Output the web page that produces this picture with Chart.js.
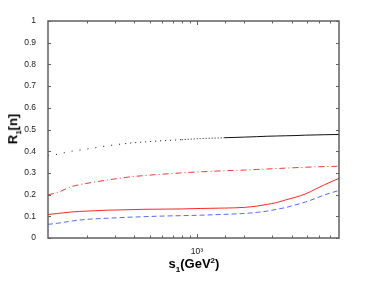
<!DOCTYPE html>
<html>
<head>
<meta charset="utf-8">
<script src="https://cdn.jsdelivr.net/npm/chart.js@4/dist/chart.umd.min.js"></script>
<style>
  html, body { margin: 0; padding: 0; background: #fff; }
  #wrap { position: relative; width: 374px; height: 281px; }
  #plot { display: block; }
  .ax-title { position: absolute; font-family: "Liberation Sans", Arial, sans-serif; font-weight: bold; font-size: 13px; color: #000; white-space: nowrap; }
  .ax-title sub, .ax-title sup { font-size: 8px; }
  #xtitle { left: 194px; top: 256px; transform: translateX(-50%); }
  #ytitle { left: 14px; top: 129px; transform: translate(-50%, -50%) rotate(-90deg); }
</style>
</head>
<body>
<div id="wrap">
  <canvas id="plot" width="374" height="281"></canvas>
  <div class="ax-title" id="xtitle">s<sub>1</sub>(GeV<sup>2</sup>)</div>
  <div class="ax-title" id="ytitle">R<sub>1</sub>[n]</div>
</div>
<script>
// s1 in GeV^2 (log axis)
const sValues = [113, 130, 160, 200, 270, 350, 450, 600, 800, 1050, 1500, 2000, 2400, 2800, 3200, 3650, 4200, 4900, 5700, 6500, 8000];

const blackDotted = [0.380, 0.386, 0.400, 0.410, 0.425, 0.435, 0.442, 0.448, 0.453, 0.458, 0.462, 0.465, 0.467, 0.469, 0.470, 0.471, 0.472, 0.474, 0.475, 0.476, 0.477];
const redDashDot  = [0.199, 0.210, 0.237, 0.252, 0.267, 0.279, 0.287, 0.294, 0.300, 0.305, 0.310, 0.313, 0.316, 0.318, 0.320, 0.322, 0.324, 0.326, 0.328, 0.329, 0.331];
const redSolid    = [0.108, 0.113, 0.120, 0.124, 0.128, 0.130, 0.132, 0.133, 0.134, 0.136, 0.138, 0.141, 0.147, 0.155, 0.163, 0.175, 0.187, 0.203, 0.226, 0.246, 0.275];
const blueDashed  = [0.063, 0.068, 0.078, 0.086, 0.091, 0.095, 0.098, 0.101, 0.103, 0.105, 0.109, 0.113, 0.118, 0.124, 0.132, 0.140, 0.152, 0.166, 0.183, 0.199, 0.219];

const xMin = 113;
const xMax = 8000;
const yTicks = [0, 0.1, 0.2, 0.3, 0.4, 0.5, 0.6, 0.7, 0.8, 0.9, 1];

function toPoints(vals) {
  return sValues.map((s, i) => ({ x: s, y: vals[i] }));
}

// dots get sparser toward the left, like the original
function dottedSegment(ctx) {
  const s = ctx.p0.parsed.x;
  if (s < 300) return [1, 7];
  if (s < 700) return [1, 4];
  if (s < 1500) return [1, 2];
  return [];
}

const boxTicks = {
  id: "boxTicks",
  afterDraw(chart) {
    const { ctx, chartArea: a, scales: { x, y } } = chart;
    ctx.save();
    ctx.strokeStyle = "#606060";
    ctx.lineWidth = 1;
    ctx.beginPath();
    y.ticks.forEach((t) => {
      const py = Math.round(y.getPixelForValue(t.value)) + 0.5;
      ctx.moveTo(a.left, py); ctx.lineTo(a.left + 3, py);
      ctx.moveTo(a.right, py); ctx.lineTo(a.right - 3, py);
    });
    x.ticks.forEach((t) => {
      if (t.value <= xMin || t.value >= xMax) return;
      const px = Math.round(x.getPixelForValue(t.value)) + 0.5;
      const len = t.value === 1000 ? 4 : 2.5;
      ctx.moveTo(px, a.bottom); ctx.lineTo(px, a.bottom - len);
      ctx.moveTo(px, a.top); ctx.lineTo(px, a.top + len);
    });
    ctx.stroke();
    ctx.lineWidth = 1.5;
    ctx.strokeRect(a.left, a.top, a.right - a.left, a.bottom - a.top);
    ctx.restore();
  },
};

new Chart(document.getElementById("plot"), {
  type: "line",
  data: {
    datasets: [
      {
        data: toPoints(blackDotted),
        borderColor: "#111",
        borderWidth: 1,
        segment: { borderDash: dottedSegment },
      },
      {
        data: toPoints(redDashDot),
        borderColor: "rgba(255,0,0,0.8)",
        borderWidth: 1,
        borderDash: [6, 3, 1, 3],
      },
      {
        data: toPoints(redSolid),
        borderColor: "rgba(255,0,0,0.85)",
        borderWidth: 1,
      },
      {
        data: toPoints(blueDashed),
        borderColor: "rgba(40,70,255,0.8)",
        borderWidth: 1,
        borderDash: [5, 3],
      },
    ],
  },
  options: {
    responsive: false,
    animation: false,
    devicePixelRatio: 1,
    elements: { point: { radius: 0 }, line: { cubicInterpolationMode: "monotone" } },
    layout: { padding: { top: 21, right: 35, left: 0, bottom: 0 } },
    plugins: { legend: { display: false }, tooltip: { enabled: false } },
    scales: {
      x: {
        type: "logarithmic",
        min: xMin,
        max: xMax,
        grid: { display: false },
        border: { display: false },
        afterFit: (s) => { s.height = 43; },
        ticks: {
          autoSkip: false,
          maxRotation: 0,
          padding: 1,
          color: "#222",
          font: { family: "Liberation Sans", size: 8.5 },
          callback: (v) => (v === 1000 ? "10\u00b3" : ""),
        },
      },
      y: {
        min: 0,
        max: 1,
        grid: { display: false },
        border: { display: false },
        afterFit: (s) => { s.width = 48; },
        afterBuildTicks: (s) => { s.ticks = yTicks.map((v) => ({ value: v })); },
        ticks: {
          padding: 4,
          color: "#222",
          font: { family: "Liberation Sans", size: 8.5 },
          callback: (v) => String(Math.round(v * 10) / 10),
        },
      },
    },
  },
  plugins: [boxTicks],
});
</script>
</body>
</html>
